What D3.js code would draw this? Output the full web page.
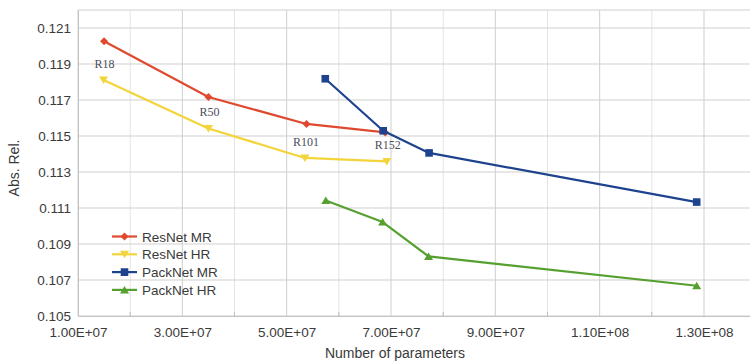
<!DOCTYPE html>
<html>
<head>
<meta charset="utf-8">
<script src="https://cdn.jsdelivr.net/npm/d3@7/dist/d3.min.js"></script>
<style>
  html, body { margin: 0; padding: 0; background: #fff; }
  svg { display: block; }
</style>
</head>
<body>
<svg id="chart" width="750" height="361"></svg>
<script>
// Parameter counts and Abs. Rel. error per model
const resnetParams   = [1.50e7, 3.50e7, 5.38e7, 6.89e7];
const resnetMR       = [0.12026, 0.11717, 0.11567, 0.11520];
const resnetHR       = [0.11811, 0.11542, 0.11378, 0.11359];
const resnetHRParams = [1.49e7, 3.50e7, 5.35e7, 6.92e7];
const resnetLabels   = ["R18", "R50", "R101", "R152"];

const packnetParams  = [5.74e7, 6.85e7, 7.73e7, 1.286e8];
const packnetMR      = [0.11818, 0.11529, 0.11406, 0.11133];
const packnetHRParams= [5.75e7, 6.84e7, 7.72e7, 1.286e8];
const packnetHR      = [0.11142, 0.11022, 0.10831, 0.10668];

const seriesNames  = ["ResNet MR", "ResNet HR", "PackNet MR", "PackNet HR"];
const seriesColors = ["#df4a2f", "#f3d43a", "#1d438e", "#55a02f"];
const seriesSymbols = ["diamond", "down", "square", "up"];

const yTicks = [0.105, 0.107, 0.109, 0.111, 0.113, 0.115, 0.117, 0.119, 0.121];
const xTicks = [1e7, 3e7, 5e7, 7e7, 9e7, 1.1e8, 1.3e8];
const xMinorTicks = [2e7, 4e7, 6e7, 8e7, 1e8, 1.2e8, 1.4e8];

const series = [
  { x: resnetParams,    y: resnetMR },
  { x: resnetHRParams,  y: resnetHR },
  { x: packnetParams,   y: packnetMR },
  { x: packnetHRParams, y: packnetHR }
];

const svg = d3.select("#chart");
const W = 750, H = 361;
const plotLeft = 78, plotTop = 10, plotBottom = 316;

const x = d3.scaleLinear().domain([1e7, 1.4e8]).range([plotLeft, plotLeft + 626 / 6 * 6.5]);
const y = d3.scaleLinear().domain([0.105, 0.122]).range([plotBottom, plotTop]);

const font = "'Liberation Sans', Arial, sans-serif";

// grid
const g = svg.append("g");
g.selectAll("line.minor").data(xMinorTicks).join("line")
  .attr("x1", d => x(d)).attr("x2", d => x(d))
  .attr("y1", plotTop).attr("y2", plotBottom)
  .attr("stroke", "#e3e3e3").attr("stroke-width", 1);
g.selectAll("line.vmajor").data(xTicks).join("line")
  .attr("x1", d => x(d)).attr("x2", d => x(d))
  .attr("y1", plotTop).attr("y2", plotBottom)
  .attr("stroke", "#cfcfcf").attr("stroke-width", 1);
g.selectAll("line.hmajor").data(yTicks.concat([0.122])).join("line")
  .attr("x1", plotLeft).attr("x2", W)
  .attr("y1", d => y(d)).attr("y2", d => y(d))
  .attr("stroke", "#cfcfcf").attr("stroke-width", 1);

// minor tick marks along the bottom
g.selectAll("line.mt").data(xMinorTicks).join("line")
  .attr("x1", d => x(d)).attr("x2", d => x(d))
  .attr("y1", plotBottom).attr("y2", plotBottom - 4)
  .attr("stroke", "#bdbdbd");

// axes via d3 axis generators (tick marks hidden, labels styled)
const yAxis = svg.append("g").attr("transform", `translate(${plotLeft},0)`)
  .call(d3.axisLeft(y).tickValues(yTicks).tickFormat(d3.format(".3f")).tickSize(0).tickPadding(7));
yAxis.select(".domain").attr("stroke", "#c4c4c4");
yAxis.selectAll("text").attr("font-family", font).attr("font-size", "13.5px").attr("fill", "#3a3a3a");

const sci = d => {
  const e = Math.floor(Math.log10(d));
  const m = d / Math.pow(10, e);
  return m.toFixed(2) + "E+" + String(e).padStart(2, "0");
};
const xAxis = svg.append("g").attr("transform", `translate(0,${plotBottom})`)
  .call(d3.axisBottom(x).tickValues(xTicks).tickFormat(sci).tickSize(0).tickPadding(11));
xAxis.select(".domain").attr("stroke", "#c4c4c4");
xAxis.selectAll("text").attr("font-family", font).attr("font-size", "13.5px").attr("fill", "#3a3a3a");

// axis titles
svg.append("text").attr("x", 395).attr("y", 358).attr("text-anchor", "middle")
  .attr("font-family", font).attr("font-size", "14px").attr("fill", "#3a3a3a")
  .text("Number of parameters");
svg.append("text").attr("transform", "translate(19,168) rotate(-90)").attr("text-anchor", "middle")
  .attr("font-family", font).attr("font-size", "14px").attr("fill", "#3a3a3a")
  .text("Abs. Rel.");

// marker shapes
function markerPath(kind, cx, cy) {
  const s = 4;
  if (kind === "diamond") return `M${cx},${cy - s}L${cx + s},${cy}L${cx},${cy + s}L${cx - s},${cy}Z`;
  if (kind === "square") return `M${cx - 3.8},${cy - 3.8}h7.6v7.6h-7.6Z`;
  if (kind === "down") return `M${cx - 4.5},${cy - 3.5}L${cx + 4.5},${cy - 3.5}L${cx},${cy + 4}Z`;
  return `M${cx - 4.5},${cy + 3.5}L${cx + 4.5},${cy + 3.5}L${cx},${cy - 4}Z`;
}

// lines and markers
const line = d3.line().x(d => x(d[0])).y(d => y(d[1]));
series.forEach((s, i) => {
  const pts = s.x.map((v, j) => [v, s.y[j]]);
  svg.append("path").datum(pts).attr("d", line)
    .attr("fill", "none").attr("stroke", seriesColors[i]).attr("stroke-width", 2.2)
    .attr("stroke-linejoin", "round");
  svg.selectAll(null).data(pts).join("path")
    .attr("d", d => markerPath(seriesSymbols[i], x(d[0]), y(d[1])))
    .attr("fill", seriesColors[i]);
});

// ResNet depth labels above the HR points
svg.selectAll("text.rl").data(resnetLabels).join("text")
  .attr("x", (d, i) => x(resnetHRParams[i]) + 1)
  .attr("y", (d, i) => y(resnetHR[i]) - 12)
  .attr("text-anchor", "middle")
  .attr("font-family", "'Liberation Serif', 'Times New Roman', serif")
  .attr("font-size", "12px").attr("fill", "#4a4e5a")
  .text(d => d);

// legend
const lg = svg.append("g");
seriesNames.forEach((name, i) => {
  const ly = 236.5 + i * 17.8;
  lg.append("line").attr("x1", 112).attr("x2", 137).attr("y1", ly).attr("y2", ly)
    .attr("stroke", seriesColors[i]).attr("stroke-width", 2.2);
  lg.append("path").attr("d", markerPath(seriesSymbols[i], 124.5, ly)).attr("fill", seriesColors[i]);
  lg.append("text").attr("x", 142).attr("y", ly + 5)
    .attr("font-family", font).attr("font-size", "13.5px").attr("fill", "#3a3a3a")
    .text(name);
});
</script>
</body>
</html>
